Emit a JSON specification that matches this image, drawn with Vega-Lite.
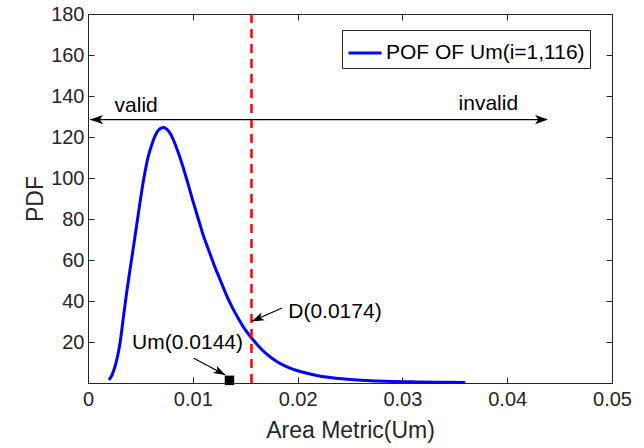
{
  "$schema": "https://vega.github.io/schema/vega-lite/v6.json",
  "width": 524,
  "height": 369,
  "autosize": "none",
  "padding": {"left": 88, "top": 14, "right": 32, "bottom": 65},
  "background": "white",
  "config": {
    "font": "Liberation Sans",
    "view": {"stroke": "#262626", "strokeWidth": 1},
    "axis": {
      "labelFont": "Liberation Sans",
      "titleFont": "Liberation Sans",
      "labelFontSize": 20,
      "titleFontSize": 23,
      "labelColor": "#262626",
      "titleColor": "#262626",
      "titleFontWeight": "normal",
      "domainColor": "#262626",
      "tickColor": "#262626",
      "grid": false,
      "tickSize": -6,
      "labelOverlap": false,
      "labelFlush": false
    }
  },
  "datasets": {
    "curve": [
      {"x": 0.0020, "y": 1.5},
      {"x": 0.0023, "y": 4},
      {"x": 0.0026, "y": 8.5},
      {"x": 0.0029, "y": 15},
      {"x": 0.0031, "y": 21},
      {"x": 0.0034, "y": 33},
      {"x": 0.0037, "y": 44.5},
      {"x": 0.0040, "y": 55},
      {"x": 0.0044, "y": 68.5},
      {"x": 0.0048, "y": 82.5},
      {"x": 0.0053, "y": 99},
      {"x": 0.0058, "y": 111.5},
      {"x": 0.0061, "y": 116.5},
      {"x": 0.0064, "y": 120.5},
      {"x": 0.0067, "y": 123.2},
      {"x": 0.0070, "y": 124.4},
      {"x": 0.0072, "y": 124.6},
      {"x": 0.0074, "y": 124.3},
      {"x": 0.0077, "y": 122.8},
      {"x": 0.0080, "y": 120.3},
      {"x": 0.0085, "y": 114},
      {"x": 0.0090, "y": 106.5},
      {"x": 0.0095, "y": 98},
      {"x": 0.0100, "y": 89},
      {"x": 0.0105, "y": 80.5},
      {"x": 0.0110, "y": 72},
      {"x": 0.0115, "y": 65},
      {"x": 0.0120, "y": 58},
      {"x": 0.0126, "y": 50.5},
      {"x": 0.0132, "y": 43},
      {"x": 0.0138, "y": 36.5},
      {"x": 0.0144, "y": 31},
      {"x": 0.0150, "y": 26},
      {"x": 0.0156, "y": 22},
      {"x": 0.0163, "y": 17.8},
      {"x": 0.0170, "y": 14.3},
      {"x": 0.0180, "y": 10.5},
      {"x": 0.0190, "y": 7.9},
      {"x": 0.0200, "y": 6},
      {"x": 0.0210, "y": 4.6},
      {"x": 0.0222, "y": 3.3},
      {"x": 0.0235, "y": 2.4},
      {"x": 0.0253, "y": 1.6},
      {"x": 0.0270, "y": 1.1},
      {"x": 0.0290, "y": 0.75},
      {"x": 0.0310, "y": 0.55},
      {"x": 0.0335, "y": 0.4},
      {"x": 0.0360, "y": 0.3}
    ]
  },
  "layer": [
    {
      "layer": [
        {
          "data": {"name": "curve"},
          "mark": {"type": "line", "strokeWidth": 3, "interpolate": "monotone"},
          "encoding": {
            "x": {
              "field": "x", "type": "quantitative",
              "scale": {"domain": [0, 0.05], "nice": false, "zero": false},
              "axis": {"title": "Area Metric(Um)", "values": [0, 0.01, 0.02, 0.03, 0.04, 0.05], "format": "~g", "labelPadding": 12, "titlePadding": 10}
            },
            "y": {
              "field": "y", "type": "quantitative",
              "scale": {"domain": [0, 180], "nice": false},
              "axis": {"title": "PDF", "values": [20, 40, 60, 80, 100, 120, 140, 160, 180], "format": "d", "labelPadding": 10, "titlePadding": 3}
            },
            "color": {
              "datum": "POF OF Um(i=1,116)",
              "scale": {"range": ["#0000ff"]},
              "legend": {
                "title": null, "orient": "none", "legendX": 254, "legendY": 16,
                "symbolType": "stroke", "symbolStrokeWidth": 3, "symbolSize": 1089,
                "labelFont": "Liberation Sans", "labelFontSize": 21, "labelColor": "#000000",
                "labelLimit": 400,
                "labelOffset": 3, "padding": 5, "strokeColor": "#262626", "fillColor": "white"
              }
            }
          }
        },
        {
          "data": {"values": [{"x": 0.0156}]},
          "mark": {"type": "rule", "color": "#ff0000", "strokeWidth": 2.5, "strokeDash": [9, 6]},
          "encoding": {"x": {"field": "x", "type": "quantitative"}}
        },
        {
          "data": {"values": [
            {"x": 0.01851, "y": 36.6, "x2": 0.01565, "y2": 30.1},
            {"x": 0.01009, "y": 12.1, "x2": 0.01311, "y2": 3.9}
          ]},
          "mark": {"type": "rule", "color": "#000000", "strokeWidth": 1.2},
          "encoding": {
            "x": {"field": "x", "type": "quantitative"},
            "y": {"field": "y", "type": "quantitative"},
            "x2": {"field": "x2"},
            "y2": {"field": "y2"}
          }
        },
        {
          "data": {"values": [{"x": 0.0002, "y": 128.5}]},
          "mark": {"type": "point", "shape": "M0,0 L-2,-0.7 L-1.5,0 L-2,0.7 Z", "filled": true, "color": "#000000", "opacity": 1, "size": 169, "angle": 180},
          "encoding": {"x": {"field": "x", "type": "quantitative"}, "y": {"field": "y", "type": "quantitative"}}
        },
        {
          "data": {"values": [{"x": 0.0439, "y": 128.5}]},
          "mark": {"type": "point", "shape": "M0,0 L-2,-0.7 L-1.5,0 L-2,0.7 Z", "filled": true, "color": "#000000", "opacity": 1, "size": 169, "angle": 0},
          "encoding": {"x": {"field": "x", "type": "quantitative"}, "y": {"field": "y", "type": "quantitative"}}
        },
        {
          "data": {"values": [{"x": 0.01565, "y": 30.1}]},
          "mark": {"type": "point", "shape": "M0,0 L-2,-0.7 L-1.5,0 L-2,0.7 Z", "filled": true, "color": "#000000", "opacity": 1, "size": 144, "angle": 156},
          "encoding": {"x": {"field": "x", "type": "quantitative"}, "y": {"field": "y", "type": "quantitative"}}
        },
        {
          "data": {"values": [{"x": 0.01311, "y": 3.9}]},
          "mark": {"type": "point", "shape": "M0,0 L-2,-0.7 L-1.5,0 L-2,0.7 Z", "filled": true, "color": "#000000", "opacity": 1, "size": 144, "angle": 28},
          "encoding": {"x": {"field": "x", "type": "quantitative"}, "y": {"field": "y", "type": "quantitative"}}
        },
        {
          "data": {"values": [{"x": 0.0135, "y": 1.3}]},
          "mark": {"type": "square", "filled": true, "color": "#000000", "opacity": 1, "size": 90},
          "encoding": {"x": {"field": "x", "type": "quantitative"}, "y": {"field": "y", "type": "quantitative"}}
        },
        {
          "data": {"values": [
            {"x": 0.0046, "y": 132, "label": "valid"},
            {"x": 0.0382, "y": 133, "label": "invalid"}
          ]},
          "mark": {"type": "text", "font": "Liberation Sans", "fontSize": 21, "color": "#000000", "align": "center", "baseline": "alphabetic"},
          "encoding": {"x": {"field": "x", "type": "quantitative"}, "y": {"field": "y", "type": "quantitative"}, "text": {"field": "label"}}
        },
        {
          "data": {"values": [
            {"x": 0.01911, "y": 31.7, "label": "D(0.0174)"},
            {"x": 0.00421, "y": 16.7, "label": "Um(0.0144)"}
          ]},
          "mark": {"type": "text", "font": "Liberation Sans", "fontSize": 21, "color": "#000000", "align": "left", "baseline": "alphabetic"},
          "encoding": {"x": {"field": "x", "type": "quantitative"}, "y": {"field": "y", "type": "quantitative"}, "text": {"field": "label"}}
        }
      ]
    },
    {
      "data": {"values": [{"x": 0.0002, "x2": 0.0435, "y": 128.5}]},
      "mark": {"type": "rule", "color": "#000000", "strokeWidth": 1.2},
      "encoding": {
        "x": {"field": "x", "type": "quantitative", "axis": {"orient": "top", "labels": false, "title": null, "values": [0, 0.01, 0.02, 0.03, 0.04, 0.05]}},
        "x2": {"field": "x2"},
        "y": {"field": "y", "type": "quantitative", "axis": {"orient": "right", "labels": false, "title": null, "values": [20, 40, 60, 80, 100, 120, 140, 160, 180]}}
      }
    }
  ],
  "resolve": {"axis": {"x": "independent", "y": "independent"}}
}
